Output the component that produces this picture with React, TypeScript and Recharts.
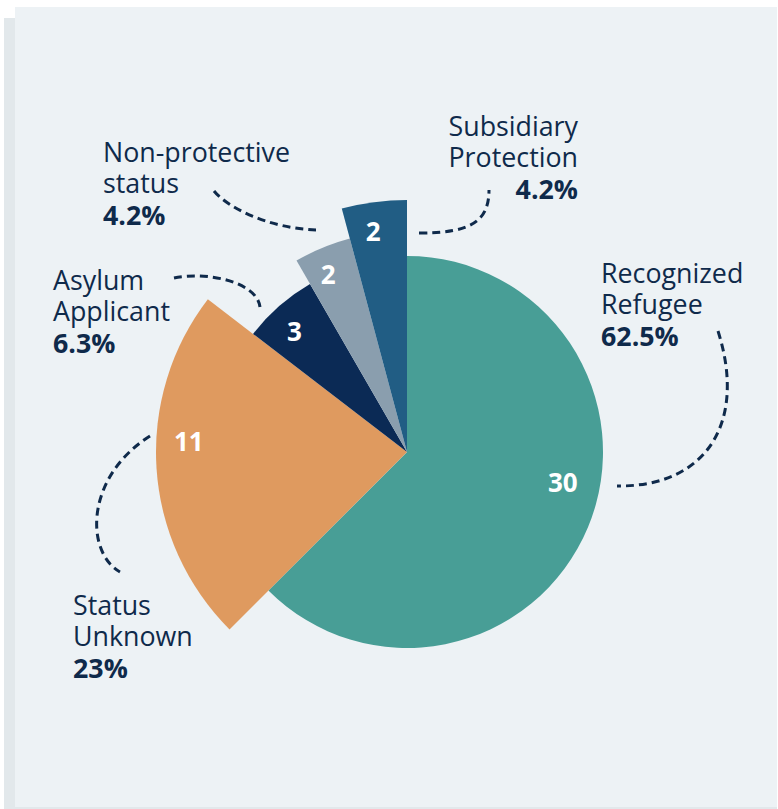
import React from 'react';
import { PieChart, Pie, Cell } from 'recharts';

const categories = [
  'Recognized Refugee',
  'Status Unknown',
  'Asylum Applicant',
  'Non-protective status',
  'Subsidiary Protection',
];
const counts = [30, 11, 3, 2, 2];
const pctLabels = ['62.5%', '23%', '6.3%', '4.2%', '4.2%'];
const nameLines = [
  ['Recognized', 'Refugee'],
  ['Status', 'Unknown'],
  ['Asylum', 'Applicant'],
  ['Non-protective', 'status'],
  ['Subsidiary', 'Protection'],
];

const colors = ['#489E96', '#DF9A5F', '#0B2A55', '#8A9EAE', '#215D84'];
const radii = [196, 251, 194, 221, 252];
const numberRadius = [0.81, 0.87, 0.85, 0.88, 0.885];
const numberShift = [11.5, -6.5, 1.75, 1.4, 1.25];

// annotation layout, offsets from the pie centre
const textX = [194, -334, -354, -304, 171];
const textY = [-169, 163, -162, -290, -316];
const textAnchor = ['start', 'start', 'start', 'start', 'end'];
const leaders = [
  [311, -121, 340, -30, 300, 35, 210, 34],
  [-257, -16, -322, 25, -322, 100, -287, 120],
  [-233, -174, -200, -181, -150, -170, -147, -145],
  [-193, -261, -180, -245, -140, -224, -91, -222],
  [12, -219, 63, -219, 82, -230, 82, -262],
];

const data = categories.map((name, i) => ({ name, value: counts[i] }));

const TEXT = '#0F2A4B';
const FONT = '"Open Sans", "Noto Sans", sans-serif';
const RAD = Math.PI / 180;
const LINE = 31.3;

const renderLabel = (props: any, slice: number) => {
  if (props.index !== slice) return null;
  const { cx, cy, midAngle, outerRadius } = props;
  const a = (midAngle + numberShift[slice]) * RAD;
  const r = outerRadius * numberRadius[slice];
  const nx = cx + r * Math.cos(-a);
  const ny = cy + r * Math.sin(-a);
  const p = leaders[slice];
  const d = `M${cx + p[0]},${cy + p[1]} C${cx + p[2]},${cy + p[3]} ${cx + p[4]},${cy + p[5]} ${cx + p[6]},${cy + p[7]}`;
  const tx = cx + textX[slice];
  const ty = cy + textY[slice];
  return (
    <g>
      <text
        x={nx}
        y={ny}
        dy="0.36em"
        textAnchor="middle"
        fill="#fff"
        fontSize={26}
        fontWeight={700}
        fontFamily={FONT}
      >
        {counts[slice]}
      </text>
      <path d={d} fill="none" stroke={TEXT} strokeWidth={3} strokeDasharray="8 5" />
      <text x={tx} y={ty} textAnchor={textAnchor[slice] as any} fill={TEXT} fontSize={26.8} fontFamily={FONT}>
        <tspan x={tx} y={ty}>{nameLines[slice][0]}</tspan>
        <tspan x={tx} y={ty + LINE}>{nameLines[slice][1]}</tspan>
        <tspan x={tx} y={ty + LINE * 2} fontWeight={700}>{pctLabels[slice]}</tspan>
      </text>
    </g>
  );
};

export default function App() {
  return (
    <div style={{ position: 'absolute', left: 0, top: 0, width: 778, height: 809 }}>
      <div style={{ position: 'absolute', left: 4, top: 18, width: 773, height: 791, background: '#E2E8EB' }} />
      <div style={{ position: 'absolute', left: 15, top: 7, width: 762, height: 800, background: '#EDF2F5' }} />
      <div style={{ position: 'absolute', left: 0, top: 0 }}>
        <PieChart width={778} height={809} margin={{ top: 0, right: 0, bottom: 0, left: 0 }}>
          {radii.map((rad, i) => (
            <Pie
              key={categories[i]}
              data={data}
              dataKey="value"
              nameKey="name"
              cx={407}
              cy={452}
              innerRadius={0}
              outerRadius={rad}
              startAngle={90}
              endAngle={-270}
              stroke="none"
              isAnimationActive={false}
              labelLine={false}
              label={(props: any) => renderLabel(props, i)}
            >
              {data.map((d, j) => (
                <Cell key={d.name} fill={j === i ? colors[i] : 'transparent'} stroke="none" />
              ))}
            </Pie>
          ))}
        </PieChart>
      </div>
    </div>
  );
}
